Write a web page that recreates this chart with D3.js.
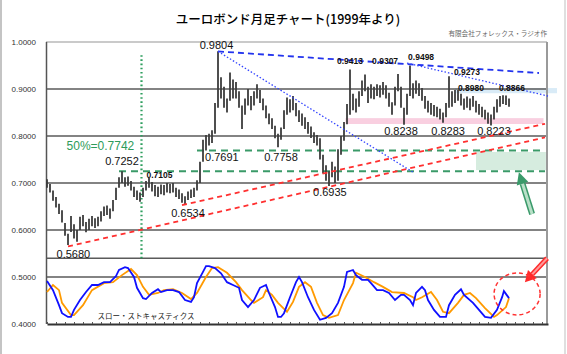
<!DOCTYPE html>
<html>
<head>
<meta charset="utf-8">
<script src="https://d3js.org/d3.v7.min.js"></script>
<style>
  body { margin: 0; background: #fff; }
  svg { display: block; font-family: 'Liberation Sans', Arial, sans-serif; }
</style>
</head>
<body>
<div id="chart"></div>
<script>
// monthly bars from Jan 1999 (index = months since start)
const priceHigh = [
  0.708,0.698,0.684,0.670,0.656,0.642,0.615,0.592,0.630,0.612,
  0.600,0.628,0.632,0.617,0.624,0.630,0.625,0.628,0.640,0.650,
  0.652,0.646,0.664,0.690,0.712,0.7252,0.712,0.714,0.704,0.692,
  0.684,0.680,0.690,0.704,0.7105,0.702,0.696,0.692,0.697,0.696,
  0.700,0.698,0.700,0.690,0.686,0.678,0.672,0.682,0.686,0.690,
  0.706,0.745,0.792,0.802,0.805,0.812,0.870,0.9804,0.925,0.905,
  0.880,0.935,0.920,0.915,0.895,0.865,0.880,0.900,0.885,0.895,
  0.910,0.898,0.880,0.865,0.848,0.838,0.822,0.805,0.818,0.855,
  0.882,0.878,0.885,0.870,0.855,0.848,0.840,0.830,0.820,0.808,
  0.802,0.795,0.760,0.738,0.725,0.745,0.735,0.772,0.800,0.830,
  0.868,0.9413,0.890,0.880,0.895,0.918,0.9307,0.905,0.910,0.905,
  0.910,0.908,0.915,0.908,0.892,0.872,0.905,0.932,0.905,0.860,
  0.890,0.9498,0.912,0.918,0.912,0.902,0.885,0.875,0.870,0.866,
  0.862,0.858,0.850,0.870,0.9273,0.895,0.898,0.898,0.890,0.880,
  0.884,0.880,0.885,0.875,0.868,0.862,0.856,0.850,0.846,0.862,
  0.878,0.885,0.8866,0.886,0.880
];
const priceLow = [
  0.690,0.680,0.662,0.648,0.634,0.616,0.588,0.568,0.596,0.582,
  0.575,0.600,0.608,0.595,0.600,0.608,0.604,0.608,0.618,0.630,
  0.632,0.624,0.640,0.664,0.690,0.700,0.692,0.694,0.684,0.670,
  0.664,0.660,0.670,0.684,0.690,0.682,0.672,0.670,0.676,0.674,
  0.680,0.678,0.680,0.670,0.666,0.658,0.6534,0.664,0.668,0.670,
  0.684,0.700,0.745,0.7691,0.780,0.785,0.805,0.860,0.880,0.860,
  0.850,0.875,0.880,0.880,0.860,0.815,0.845,0.865,0.855,0.865,
  0.880,0.870,0.855,0.838,0.825,0.815,0.795,0.7758,0.792,0.815,
  0.845,0.850,0.855,0.842,0.830,0.822,0.815,0.805,0.796,0.785,
  0.780,0.750,0.720,0.705,0.6935,0.712,0.700,0.705,0.760,0.790,
  0.825,0.845,0.855,0.850,0.862,0.885,0.895,0.870,0.880,0.878,
  0.885,0.882,0.888,0.880,0.862,0.845,0.865,0.895,0.860,0.8238,
  0.845,0.885,0.880,0.890,0.885,0.875,0.858,0.850,0.845,0.842,
  0.840,0.835,0.8283,0.840,0.860,0.862,0.870,0.875,0.865,0.856,
  0.860,0.855,0.862,0.850,0.845,0.840,0.835,0.826,0.8223,0.835,
  0.850,0.862,0.868,0.866,0.862
];

// slow stochastics, drawn on the same value axis (lower panel)
const stochK = [
  [0,0.4915],[2,0.472],[4,0.440],[5,0.423],[7,0.415],[8,0.415],[9,0.430],[11,0.451],
  [13,0.468],[15,0.483],[17,0.483],[19,0.489],[21,0.489],[23,0.502],[24,0.515],[26,0.521],
  [27,0.519],[29,0.500],[30,0.477],[32,0.455],[33,0.453],[35,0.466],[37,0.474],[38,0.468],
  [40,0.472],[42,0.472],[44,0.468],[46,0.451],[48,0.447],[49,0.457],[50,0.487],[52,0.511],
  [53,0.523],[54,0.523],[56,0.519],[58,0.508],[60,0.489],[62,0.483],[64,0.477],[65,0.451],
  [67,0.436],[69,0.451],[71,0.477],[73,0.483],[74,0.466],[76,0.436],[77,0.415],[78,0.415],
  [79,0.423],[81,0.457],[83,0.489],[84,0.500],[85,0.489],[87,0.457],[89,0.430],[91,0.409],
  [93,0.413],[95,0.423],[97,0.445],[99,0.479],[100,0.511],[102,0.515],[103,0.504],[105,0.494],
  [107,0.494],[108,0.487],[110,0.472],[112,0.472],[114,0.466],[116,0.451],[118,0.462],[119,0.462],
  [121,0.451],[122,0.440],[123,0.466],[125,0.479],[126,0.472],[127,0.451],[129,0.430],[131,0.415],
  [133,0.415],[134,0.440],[136,0.462],[138,0.474],[139,0.462],[142,0.445],[144,0.430],[146,0.415],
  [148,0.413],[150,0.430],[151.7,0.457],[152.3,0.470],[154,0.455]
];
const stochD = [
  [0,0.468],[2,0.483],[4,0.472],[5,0.445],[8,0.419],[9,0.419],[12,0.440],[15,0.472],
  [19,0.487],[22,0.489],[25,0.504],[28,0.517],[30,0.504],[32,0.479],[34,0.462],[37,0.466],
  [39,0.472],[42,0.474],[45,0.466],[48,0.453],[50,0.466],[53,0.500],[55,0.519],[57,0.521],
  [60,0.509],[63,0.489],[65,0.472],[68,0.451],[69,0.445],[72,0.457],[73,0.472],[75,0.462],
  [77,0.445],[80,0.426],[82,0.447],[84,0.479],[86,0.489],[88,0.479],[90,0.445],[92,0.419],
  [94,0.413],[97,0.419],[99,0.451],[102,0.487],[103,0.509],[106,0.500],[109,0.489],[112,0.479],
  [115,0.468],[119,0.466],[122,0.457],[123,0.451],[125,0.457],[128,0.468],[130,0.451],[132,0.426],
  [134,0.423],[137,0.445],[139,0.462],[141,0.466],[143,0.455],[146,0.434],[149,0.415],[150,0.419],
  [153,0.436],[154,0.455]
];

const yTicks = [1.0, 0.9, 0.8, 0.7, 0.6, 0.5, 0.4];
const gridValues = [0.9, 0.8, 0.7, 0.6, 0.54, 0.5];

// annotations, in [month, value]
const redTrends = [[[7, 0.565], [166, 0.797]], [[45, 0.653], [166, 0.826]]];
const blueDashed = [[[57, 0.980], [164, 0.934]]];
const blueDotted = [[[57, 0.980], [122, 0.723]], [[120, 0.955], [167, 0.885]]];
const greenLevels = [[50, 0.7691], [24, 0.7252]];
const fiftyPct = {m: 31.5, top: 0.972, bottom: 0.54};

const bigLabels = [
  ["0.9804", 56.5, 0.9926], ["0.8238", 118, 0.811], ["0.8283", 133.7, 0.811],
  ["0.8223", 149, 0.811], ["0.7691", 58.3, 0.754], ["0.7758", 78, 0.754],
  ["0.6935", 94.3, 0.681], ["0.6534", 47, 0.636], ["0.7252", 25, 0.746],
  ["0.5680", 8.8, 0.549]
];
const smallLabels = [
  ["0.9413", 101, 0.9596], ["0.9307", 112.7, 0.9596], ["0.9498", 124.7, 0.967],
  ["0.9273", 140, 0.937], ["0.8980", 141.3, 0.903], ["0.8866", 155, 0.903],
  ["0.7105", 37.5, 0.717]
];

const width = 567, height = 354;
const x = d3.scaleLinear().domain([0, 167]).range([47, 548]);
const y = d3.scaleLinear().domain([0.4, 1.0]).range([324, 42]);

const svg = d3.select("#chart").append("svg")
  .attr("width", width).attr("height", height);

// frame
svg.append("line").attr("x1", 1).attr("x2", 1).attr("y1", 0).attr("y2", height)
  .attr("stroke", "#c4c4c4").attr("stroke-width", 2);
svg.append("line").attr("x1", 565).attr("x2", 565).attr("y1", 0).attr("y2", height)
  .attr("stroke", "#d4d4d4").attr("stroke-width", 1.5);

// titles
svg.append("text").attr("x", 288).attr("y", 20).attr("dy", "0.35em")
  .attr("text-anchor", "middle")
  .style("font-family", "'Noto Sans CJK JP', sans-serif")
  .style("font-size", "12.5px").style("font-weight", 500)
  .text("ユーロボンド月足チャート(1999年より)");
svg.append("text").attr("x", 547).attr("y", 34).attr("dy", "0.35em")
  .attr("text-anchor", "end").attr("fill", "#666")
  .style("font-family", "'Noto Sans CJK JP', sans-serif")
  .style("font-size", "6.6px")
  .text("有限会社フォレックス・ラジオ作");

// highlight bands
svg.append("rect")
  .attr("x", x(136)).attr("width", x(170) - x(136))
  .attr("y", y(0.902)).attr("height", y(0.891) - y(0.902))
  .attr("fill", "#d9ebf7");
svg.append("rect")
  .attr("x", x(99.5)).attr("width", x(165.5) - x(99.5))
  .attr("y", y(0.838)).attr("height", y(0.8255) - y(0.838))
  .attr("fill", "#f9cfe0");
svg.append("rect")
  .attr("x", x(143)).attr("width", x(166.3) - x(143))
  .attr("y", y(0.766)).attr("height", y(0.7275) - y(0.766))
  .attr("fill", "#d6ecdf");

// grid
svg.append("line").attr("x1", 46).attr("x2", 547).attr("y1", y(1)).attr("y2", y(1))
  .attr("stroke", "#b8b8b8").attr("stroke-width", 1.5);
svg.append("g").selectAll("line").data(gridValues).join("line")
  .attr("x1", 47).attr("x2", 547)
  .attr("y1", d => y(d)).attr("y2", d => y(d))
  .attr("stroke", "#5a5a5a").attr("stroke-width", 1.5);
svg.append("line").attr("x1", 46.5).attr("x2", 46.5).attr("y1", y(1)).attr("y2", y(0.4))
  .attr("stroke", "#555").attr("stroke-width", 1.5);
svg.append("line").attr("x1", 547).attr("x2", 547).attr("y1", y(1)).attr("y2", y(0.4))
  .attr("stroke", "#9a9a9a").attr("stroke-width", 2);

// y labels
svg.append("g")
  .attr("transform", "translate(36,0)")
  .call(d3.axisLeft(y).tickValues(yTicks).tickFormat(d3.format(".4f")).tickSize(0).tickPadding(0))
  .call(g => g.select(".domain").remove())
  .call(g => g.selectAll("text").attr("fill", "#333")
    .style("font-size", "8px").style("font-family", "'Liberation Sans', Arial, sans-serif"));

// bottom axis with small month ticks
svg.append("g")
  .attr("transform", `translate(0,${y(0.4)})`)
  .call(d3.axisBottom(x).tickValues(d3.range(0, 168, 3)).tickFormat("")
    .tickSizeInner(-2).tickSizeOuter(0))
  .call(g => g.select(".domain").attr("stroke", "#333").attr("stroke-width", 2))
  .call(g => g.selectAll(".tick line").attr("stroke", "#555"));

// green 50% vertical + levels
svg.append("line")
  .attr("x1", x(fiftyPct.m)).attr("x2", x(fiftyPct.m))
  .attr("y1", y(fiftyPct.top)).attr("y2", y(fiftyPct.bottom))
  .attr("stroke", "#2e9e5e").attr("stroke-width", 2.2)
  .attr("stroke-dasharray", "1.6,2.6");
svg.append("g").selectAll("line").data(greenLevels).join("line")
  .attr("x1", d => x(d[0])).attr("x2", x(166))
  .attr("y1", d => y(d[1])).attr("y2", d => y(d[1]))
  .attr("stroke", "#3a9a68").attr("stroke-width", 2)
  .attr("stroke-dasharray", "7,5");

// price bars
svg.append("g").selectAll("line").data(priceHigh).join("line")
  .attr("x1", (d, i) => x(i)).attr("x2", (d, i) => x(i))
  .attr("y1", d => y(d)).attr("y2", (d, i) => y(priceLow[i]))
  .attr("stroke", "#3c3c3c").attr("stroke-width", 1.8);

// trend lines
const seg = (g, data) => g.selectAll("line").data(data).join("line")
  .attr("x1", d => x(d[0][0])).attr("y1", d => y(d[0][1]))
  .attr("x2", d => x(d[1][0])).attr("y2", d => y(d[1][1]));
seg(svg.append("g"), redTrends)
  .attr("stroke", "#ff3030").attr("stroke-width", 1.8).attr("stroke-dasharray", "5,4");
seg(svg.append("g"), blueDashed)
  .attr("stroke", "#2233ee").attr("stroke-width", 1.8).attr("stroke-dasharray", "6,4");
seg(svg.append("g"), blueDotted)
  .attr("stroke", "#3344ff").attr("stroke-width", 1.3).attr("stroke-dasharray", "1.5,2");

// stochastics
const line = d3.line().x(d => x(d[0])).y(d => y(d[1]));
svg.append("path").datum(stochD).attr("d", line)
  .attr("fill", "none").attr("stroke", "#ff9a00").attr("stroke-width", 1.8);
svg.append("path").datum(stochK).attr("d", line)
  .attr("fill", "none").attr("stroke", "#1010ff").attr("stroke-width", 1.8);

svg.append("text").attr("x", x(33)).attr("y", y(0.417)).attr("dy", "0.35em")
  .attr("text-anchor", "middle").attr("fill", "#222")
  .style("font-family", "'Noto Sans CJK JP', sans-serif").style("font-size", "7.5px")
  .text("スロー・ストキャスティクス");

// price labels
svg.append("g").selectAll("text").data(bigLabels).join("text")
  .attr("x", d => x(d[1])).attr("y", d => y(d[2])).attr("dy", "0.35em")
  .attr("text-anchor", "middle").style("font-size", "11px").attr("fill", "#111")
  .text(d => d[0]);
svg.append("g").selectAll("text").data(smallLabels).join("text")
  .attr("x", d => x(d[1])).attr("y", d => y(d[2])).attr("dy", "0.35em")
  .attr("text-anchor", "middle").style("font-size", "8.5px").style("font-weight", "bold")
  .attr("fill", "#111")
  .text(d => d[0]);
svg.append("text").attr("x", x(17.8)).attr("y", y(0.779)).attr("dy", "0.35em")
  .attr("text-anchor", "middle").attr("fill", "#2e9b5a").style("font-size", "12px")
  .text("50%=0.7742");

// arrows and circle
function arrow(from, to, dark, light, headLen, headW, shaftW) {
  const x1 = x(from[0]), y1 = y(from[1]), x2 = x(to[0]), y2 = y(to[1]);
  const a = Math.atan2(y2 - y1, x2 - x1);
  const bx = x2 - headLen * Math.cos(a), by = y2 - headLen * Math.sin(a);
  const g = svg.append("g");
  g.append("line").attr("x1", x1).attr("y1", y1).attr("x2", bx).attr("y2", by)
    .attr("stroke", dark).attr("stroke-width", shaftW);
  g.append("line").attr("x1", x1).attr("y1", y1).attr("x2", bx).attr("y2", by)
    .attr("stroke", light).attr("stroke-width", shaftW - 3);
  const px = Math.sin(a) * headW / 2, py = -Math.cos(a) * headW / 2;
  g.append("polygon")
    .attr("points", [[x2, y2], [bx + px, by + py], [bx - px, by - py]].join(" "))
    .attr("fill", dark);
}
arrow([161.7, 0.634], [157.3, 0.723], "#3a9a6a", "#b9e0c8", 12, 12, 6);
arrow([166.7, 0.540], [159.3, 0.489], "#ff2a2a", "#ff9a9a", 11, 12, 5);

svg.append("ellipse")
  .attr("cx", x(156.7)).attr("cy", y(0.464)).attr("rx", 23).attr("ry", 21)
  .attr("fill", "none").attr("stroke", "#ff3333").attr("stroke-width", 1.5)
  .attr("stroke-dasharray", "4,3");
</script>
</body>
</html>
